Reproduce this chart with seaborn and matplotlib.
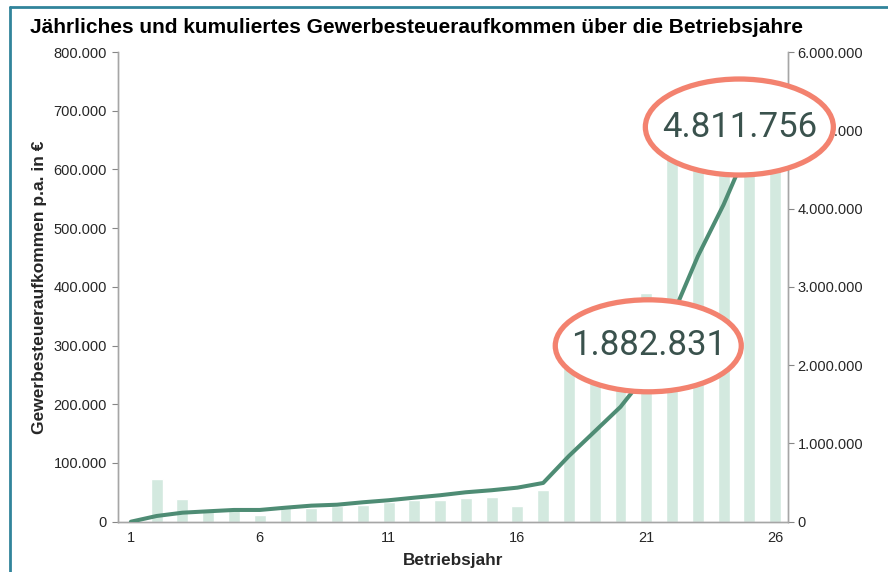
import numpy as np
import pandas as pd
import matplotlib
matplotlib.use("Agg")
import matplotlib.pyplot as plt
import seaborn as sns
from matplotlib.patches import Ellipse
from matplotlib.ticker import FuncFormatter, FixedLocator
from matplotlib.transforms import ScaledTranslation
from matplotlib.lines import Line2D

# data
years = list(range(1, 27))
annual = [0, 73000, 39000, 20000, 21000, 11000, 23000, 24000, 26000, 28500,
          33000, 36500, 37500, 40000, 41500, 27000, 54000, 340000, 313000, 314000,
          390000, 700000, 720000, 680000, 700000, 660000]
cumulative = [0, 73000, 115000, 133000, 150000, 150000, 179000, 205000, 217000, 248000,
              274000, 307000, 338000, 376000, 402000, 435000, 495000, 840000, 1153000, 1467000,
              1882831, 2618000, 3390000, 4050000, 4811756, 5450000]
xticks = [1, 6, 11, 16, 21, 26]
callouts = {21: "1.882.831", 25: "4.811.756"}

df = pd.DataFrame({"Jahr": years, "Jaehrlich": annual, "Kumuliert": cumulative})

sns.set_style("white")
plt.rcParams["font.family"] = ["Liberation Sans", "DejaVu Sans"]

bar_col = "#d3e9df"
line_col = "#4e8c74"
axis_col = "#a6a6a6"
text_col = "#262626"

fig = plt.figure(figsize=(8.88, 5.72), dpi=100)
ax = fig.add_axes([118 / 888, 1 - 521.7 / 572, 670 / 888, 469.7 / 572])

sns.barplot(data=df, x="Jahr", y="Jaehrlich", native_scale=True, width=0.46,
            color=bar_col, saturation=1, ax=ax)
ax.set_xlim(0.5, 26.5)
ax.set_ylim(0, 800000)

ax2 = ax.twinx()
sns.lineplot(data=df, x="Jahr", y="Kumuliert", color=line_col, linewidth=2.9,
             ax=ax2, zorder=3)
ax2.set_ylim(0, 6000000)
ax2.set_xlim(0.5, 26.5)

fmt = FuncFormatter(lambda v, p: f"{int(round(v)):,}".replace(",", "."))
ax.yaxis.set_major_formatter(fmt)
ax2.yaxis.set_major_formatter(fmt)
ax.set_yticks(np.arange(0, 800001, 100000))
ax2.set_yticks(np.arange(0, 6000001, 1000000))

ax.set_xticks(xticks)
ax.set_xticklabels([str(t) for t in xticks])
ax.xaxis.set_minor_locator(FixedLocator(np.arange(0.5, 27, 1)))
ax.tick_params(axis="x", which="major", length=0, pad=7, labelsize=10.5, labelcolor=text_col)
ax.tick_params(axis="x", which="minor", length=4, color="#868686", direction="out")
ax.tick_params(axis="y", length=4, color="#868686", direction="out", labelsize=10.5,
               labelcolor=text_col, left=True, pad=4)
ax2.tick_params(axis="y", length=4, color="#868686", direction="out", labelsize=10.5,
                labelcolor=text_col, right=True, pad=3)

for a in (ax, ax2):
    a.spines["top"].set_visible(False)
    for s in ("left", "right", "bottom"):
        a.spines[s].set_color(axis_col)
        a.spines[s].set_linewidth(1)
ax2.set_ylabel("")
ax.set_ylabel("Gewerbesteueraufkommen p.a. in €", fontsize=12.5, fontweight="bold",
              color=text_col)
ax.yaxis.set_label_coords(-0.106, 0.5)
ax.set_xlabel("Betriebsjahr", fontsize=12.3, fontweight="bold", color=text_col)
ax.xaxis.set_label_coords(0.5, -0.066)

fig.text(30 / 888, 1 - 27.5 / 572, "Jährliches und kumuliertes Gewerbesteueraufkommen über die Betriebsjahre",
         fontsize=15, fontweight="bold", color="#000000", va="center", ha="left")

# callout ellipses around the cumulative values
offsets = {21: (0.02, 0.285, 1.86, 0.92), 25: (-0.10, 0.18, 1.88, 0.96)}
for yr, label in callouts.items():
    val = cumulative[years.index(yr)]
    dx, dy, w, h = offsets[yr]
    trans = fig.dpi_scale_trans + ScaledTranslation(yr, val, ax2.transData)
    ax2.add_patch(Ellipse((dx, dy), w, h, transform=trans, facecolor="white",
                          edgecolor="#f3826f", linewidth=3.8, zorder=5, clip_on=False))
    ax2.text(dx, dy, label, transform=trans, ha="center", va="center",
             fontsize=25, family="Roboto", color="#3a524d", zorder=6, clip_on=False)

# outer frame (top and left edge)
fig.add_artist(Line2D([10 / 888, 10 / 888], [0, 1 - 6.7 / 572], transform=fig.transFigure,
                      color="#31849b", linewidth=2))
fig.add_artist(Line2D([10 / 888, 1], [1 - 6.7 / 572, 1 - 6.7 / 572], transform=fig.transFigure,
                      color="#31849b", linewidth=2))

fig.savefig("out.png", dpi=100)
